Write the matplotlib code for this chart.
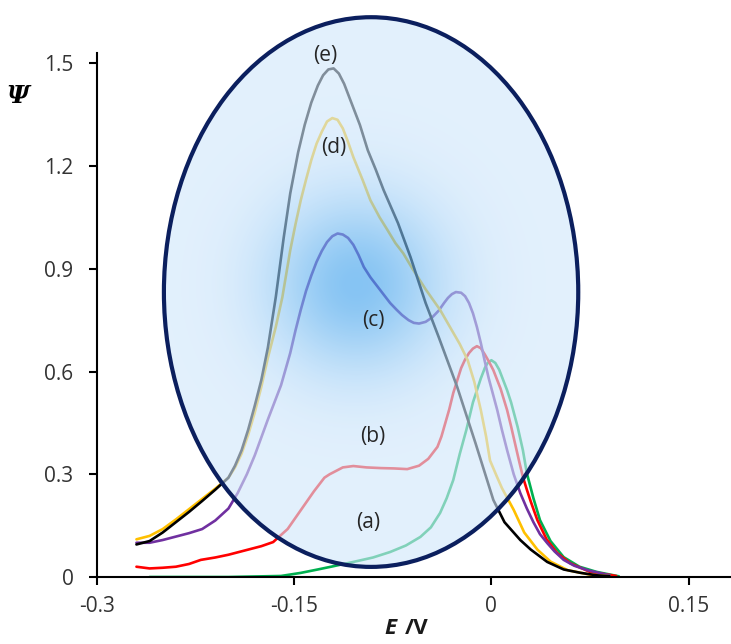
import numpy as np
import matplotlib
matplotlib.use("Agg")
import matplotlib.pyplot as plt
from matplotlib.patches import Ellipse

# curve (a) green
xa = [-0.26, -0.2, -0.16, -0.145, -0.132, -0.122, -0.105, -0.09, -0.077, -0.065, -0.054, -0.046,
      -0.039, -0.034, -0.029, -0.024, -0.019, -0.014, -0.008, -0.005, -0.003, 0.0, 0.003, 0.006,
      0.009, 0.012, 0.015, 0.02, 0.024, 0.027, 0.032, 0.037, 0.045, 0.055, 0.067, 0.08, 0.097]
ya = [0.0, 0.0, 0.003, 0.012, 0.022, 0.03, 0.044, 0.057, 0.073, 0.092, 0.117, 0.145,
      0.187, 0.23, 0.283, 0.36, 0.43, 0.51, 0.58, 0.61, 0.624, 0.633, 0.625, 0.605,
      0.575, 0.545, 0.51, 0.438, 0.37, 0.303, 0.23, 0.166, 0.105, 0.058, 0.03, 0.015, 0.002]

# curve (b) red
xb = [-0.27, -0.26, -0.25, -0.24, -0.23, -0.221, -0.21, -0.2, -0.185, -0.175, -0.166, -0.155,
      -0.145, -0.135, -0.13, -0.127, -0.123, -0.12, -0.113, -0.105, -0.095, -0.084, -0.074,
      -0.064, -0.055, -0.048, -0.041, -0.038, -0.035, -0.032, -0.029, -0.023, -0.02, -0.017,
      -0.014, -0.011, -0.008, -0.005, -0.002, 0.0015, 0.007, 0.012, 0.015, 0.018, 0.021, 0.024,
      0.027, 0.03, 0.035, 0.042, 0.05, 0.06, 0.075, 0.095]
yb = [0.03, 0.025, 0.027, 0.03, 0.038, 0.05, 0.057, 0.065, 0.08, 0.09, 0.102, 0.14,
      0.195, 0.25, 0.275, 0.29, 0.3, 0.306, 0.32, 0.324, 0.32, 0.318, 0.317,
      0.315, 0.325, 0.345, 0.38, 0.41, 0.45, 0.49, 0.537, 0.61, 0.635, 0.654,
      0.667, 0.674, 0.668, 0.65, 0.63, 0.604, 0.55, 0.487, 0.44, 0.39, 0.34, 0.292,
      0.255, 0.22, 0.166, 0.11, 0.07, 0.04, 0.015, 0.003]

# curve (c) purple
xc = [-0.27, -0.26, -0.25, -0.24, -0.23, -0.22, -0.21, -0.2, -0.193, -0.186, -0.18, -0.17,
      -0.16, -0.153, -0.149, -0.145, -0.141, -0.137, -0.133, -0.129, -0.125, -0.121, -0.117,
      -0.113, -0.109, -0.105, -0.101, -0.097, -0.092, -0.087, -0.082, -0.077, -0.072, -0.068,
      -0.063, -0.059, -0.055, -0.05, -0.045, -0.04, -0.036, -0.033, -0.03, -0.027, -0.023,
      -0.02, -0.017, -0.014, -0.011, -0.008, -0.005, -0.002, 0.0045, 0.008, 0.012, 0.017,
      0.022, 0.027, 0.032, 0.037, 0.0425, 0.048, 0.055, 0.063, 0.073, 0.09]
yc = [0.1, 0.1, 0.108, 0.118, 0.128, 0.14, 0.165, 0.2, 0.245, 0.3, 0.355, 0.46,
      0.56, 0.654, 0.72, 0.78, 0.835, 0.88, 0.92, 0.952, 0.978, 0.995, 1.003,
      1.0, 0.99, 0.97, 0.94, 0.905, 0.875, 0.85, 0.825, 0.8, 0.78, 0.765,
      0.75, 0.742, 0.74, 0.745, 0.758, 0.778, 0.8, 0.815, 0.826, 0.832, 0.83,
      0.82, 0.8, 0.77, 0.73, 0.683, 0.63, 0.58, 0.487, 0.43, 0.37, 0.3,
      0.245, 0.2, 0.16, 0.125, 0.099, 0.075, 0.05, 0.033, 0.02, 0.005]

# curve (d) yellow
xd = [-0.27, -0.26, -0.25, -0.24, -0.23, -0.22, -0.21, -0.2, -0.195, -0.19, -0.185, -0.18,
      -0.175, -0.17, -0.164, -0.159, -0.153, -0.149, -0.145, -0.141, -0.137, -0.133, -0.129,
      -0.125, -0.121, -0.117, -0.113, -0.109, -0.105, -0.098, -0.092, -0.085, -0.079, -0.073,
      -0.067, -0.06, -0.05, -0.039, -0.03, -0.024, -0.018, -0.013, -0.008, -0.004, -0.001,
      0.004, 0.008, 0.017, 0.025, 0.035, 0.045, 0.058, 0.075, 0.09]
yd = [0.11, 0.12, 0.14, 0.168, 0.198, 0.228, 0.258, 0.29, 0.32, 0.36, 0.415, 0.48,
      0.555, 0.64, 0.73, 0.817, 0.954, 1.03, 1.1, 1.16, 1.217, 1.265, 1.3,
      1.33, 1.34, 1.335, 1.31, 1.27, 1.226, 1.16, 1.1, 1.05, 1.013, 0.975,
      0.945, 0.9, 0.84, 0.78, 0.72, 0.68, 0.633, 0.57, 0.487, 0.41, 0.34,
      0.295, 0.26, 0.196, 0.13, 0.08, 0.045, 0.02, 0.007, 0.002]

# curve (e) black
xe = [-0.27, -0.26, -0.25, -0.24, -0.23, -0.22, -0.21, -0.2, -0.195, -0.19, -0.185, -0.18,
      -0.175, -0.17, -0.164, -0.158, -0.153, -0.147, -0.142, -0.137, -0.132, -0.128, -0.124,
      -0.12, -0.116, -0.112, -0.107, -0.1, -0.094, -0.088, -0.082, -0.071, -0.0615, -0.05,
      -0.04, -0.026, -0.012, 0.0015, 0.01, 0.022, 0.03, 0.0425, 0.055, 0.068, 0.08, 0.09]
ye = [0.095, 0.105, 0.13, 0.16, 0.19, 0.222, 0.255, 0.29, 0.325, 0.37, 0.43, 0.5,
      0.575, 0.67, 0.817, 0.99, 1.12, 1.24, 1.32, 1.385, 1.435, 1.465, 1.482,
      1.485, 1.47, 1.44, 1.39, 1.32, 1.246, 1.19, 1.13, 1.033, 0.934, 0.8,
      0.7, 0.555, 0.39, 0.225, 0.16, 0.108, 0.08, 0.044, 0.022, 0.012, 0.005, 0.002]

labels = ["(a)", "(b)", "(c)", "(d)", "(e)"]
label_x = [-0.094, -0.09, -0.09, -0.12, -0.126]
label_y = [0.16, 0.409, 0.75, 1.255, 1.523]

xticks = [-0.3, -0.15, 0, 0.15]
xticklabels = ["-0.3", "-0.15", "0", "0.15"]
yticks = [0, 0.3, 0.6, 0.9, 1.2, 1.5]
yticklabels = ["0", "0.3", "0.6", "0.9", "1.2", "1.5"]

fig = plt.figure(figsize=(7.31, 6.44), dpi=100)
ax = fig.add_axes([97 / 731, 67 / 644, 634 / 731, 524 / 644])

colors = ["#00b050", "#ff0000", "#7030a0", "#ffc000", "#000000"]
for xs, ys, c in zip([xa, xb, xc, xd, xe], [ya, yb, yc, yd, ye], colors):
    ax.plot(xs, ys, color=c, lw=1.9, zorder=2, solid_joinstyle="round",
            solid_capstyle="round")

# blue ellipse with radial glow, laid over the curves
ecx, ecy, ew, eh = -0.0915, 0.832, 0.3152, 1.605
sx, sy = 1316.7, 342.7  # px per data unit
gx = np.linspace(ecx - ew / 2, ecx + ew / 2, 400)
gy = np.linspace(ecy - eh / 2, ecy + eh / 2, 500)
GX, GY = np.meshgrid(gx, gy)
r = np.hypot((GX + 0.103) * sx, (GY - 0.855) * sy)
w = np.exp(-(r / 85.0) ** 2)
edge = np.array([210, 232, 252]) / 255
centre = np.array([60, 160, 236]) / 255
img = np.zeros(GX.shape + (4,))
for i in range(3):
    img[..., i] = edge[i] + (centre[i] - edge[i]) * w
img[..., 3] = 0.62
im = ax.imshow(img, extent=[gx[0], gx[-1], gy[0], gy[-1]], origin="lower",
               aspect="auto", zorder=3, interpolation="bilinear")
clip = Ellipse((ecx, ecy), ew, eh, transform=ax.transData)
im.set_clip_path(clip)
im.set_clip_box(fig.bbox)
ax.add_patch(Ellipse((ecx, ecy), ew, eh, fill=False, ec="#0b1f5e", lw=3,
                     zorder=4, clip_on=False))

for t, lx, ly in zip(labels, label_x, label_y):
    ax.text(lx, ly, t, ha="center", va="center", fontsize=15, color="#262626",
            family="Open Sans", zorder=5, clip_on=False)

ax.set_xlim(-0.3, 0.1823)
ax.set_ylim(0, 1.53)
ax.set_xticks(xticks)
ax.set_xticklabels(xticklabels)
ax.set_yticks(yticks)
ax.set_yticklabels(yticklabels)
for s in ["top", "right"]:
    ax.spines[s].set_visible(False)
for s in ["left", "bottom"]:
    ax.spines[s].set_linewidth(1.5)
ax.tick_params(axis="both", length=6, width=1.5, labelsize=15, labelcolor="#333333")
ax.tick_params(axis="y", pad=11)
ax.tick_params(axis="x", pad=8)
for lab in ax.get_xticklabels() + ax.get_yticklabels():
    lab.set_family("Open Sans")

fig.text(18 / 731, 1 - 96 / 644, "Ψ", fontsize=18, family="DejaVu Serif",
         style="italic", weight="bold", ha="center", va="center")
fig.text(390 / 731, 1 - 628 / 644, "E", fontsize=16, family="Open Sans",
         style="italic", weight="bold", ha="center", va="center", color="#1a1a1a")
fig.text(417 / 731, 1 - 628 / 644, "/V", fontsize=16, family="Open Sans",
         weight="bold", ha="center", va="center", color="#1a1a1a")

fig.savefig("out.png", dpi=100)
